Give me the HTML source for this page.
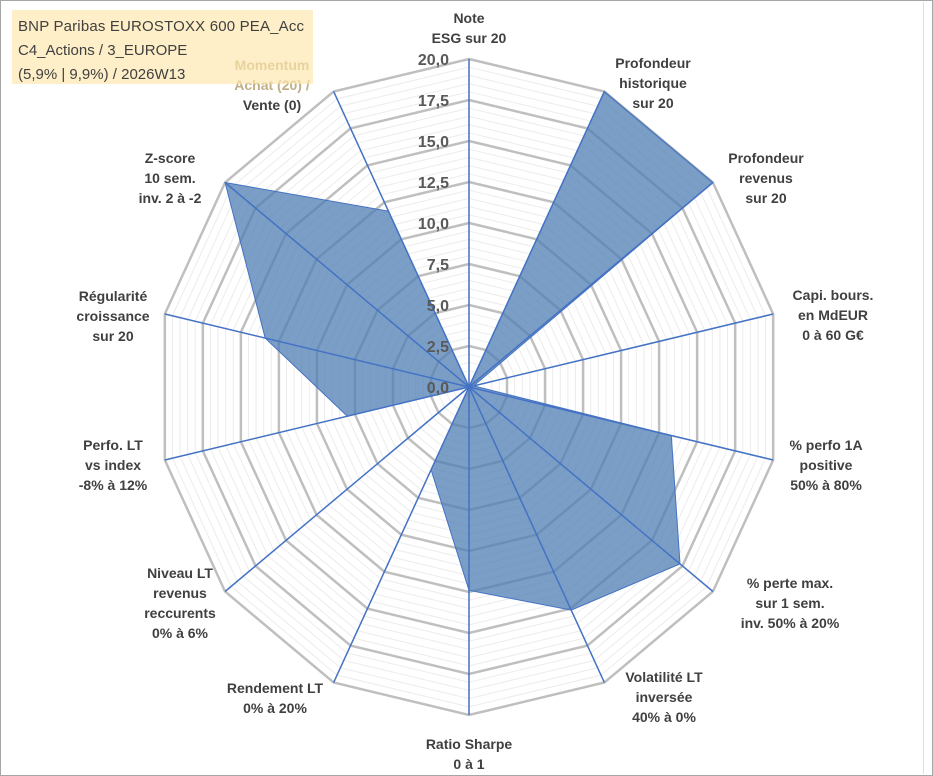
<!DOCTYPE html>
<html><head><meta charset="utf-8"><style>
body{margin:0;background:#fff;}
#wrap{position:relative;width:933px;height:776px;overflow:hidden;background:#fff;}
svg text{font-family:"Liberation Sans",sans-serif;}
</style></head><body>
<div id="wrap">
<svg id="chart" width="933" height="776">
<rect x="0.5" y="0.5" width="932" height="775" fill="#fff" stroke="#a6a6a6"/>
<rect x="923" y="2" width="1" height="772" fill="#e0e0e0"/>
</svg>
</div>
<script>
const categories=[["Note","ESG sur 20"],["Profondeur","historique","sur 20"],["Profondeur","revenus","sur 20"],["Capi. bours.","en MdEUR","0 à 60 G€"],["% perfo 1A","positive","50% à 80%"],["% perte max.","sur 1 sem.","inv. 50% à 20%"],["Volatilité LT","inversée","40% à 0%"],["Ratio Sharpe","0 à 1"],["Rendement LT","0% à 20%"],["Niveau LT","revenus","reccurents","0% à 6%"],["Perfo. LT","vs index","-8% à 12%"],["Régularité","croissance","sur 20"],["Z-score","10 sem.","inv. 2 à -2"],["Momentum","Achat (20) /","Vente (0)"]];
const values=[0,20,20,0.3,13.3,17.3,15.1,12.4,5.6,0,8,13.4,20,11.9];
const ticks=["0,0","2,5","5,0","7,5","10,0","12,5","15,0","17,5","20,0"];
const labelPos=[[469,18],[653,63],[766,158],[833,295],[826,445],[790,583],[664,677],[469,744],[275,688],[180,573],[113,445],[113,296],[170,158],[272,65]];
const NS="http://www.w3.org/2000/svg";
const svg=document.getElementById('chart');
const cx=469,cy=387,RX=312,RY=328,maxV=20,N=categories.length;
function pt(i,v){const a=i*2*Math.PI/N;const f=v/maxV;return [cx+f*RX*Math.sin(a),cy-f*RY*Math.cos(a)];}
function mk(t,attrs){const e=document.createElementNS(NS,t);for(const k in attrs)e.setAttribute(k,attrs[k]);svg.appendChild(e);return e;}
for(let v=0.5;v<=20.001;v+=0.5){
 if(Math.abs(v/2.5-Math.round(v/2.5))<0.01)continue;
 const p=[];for(let i=0;i<N;i++)p.push(pt(i,v).join(','));
 const e=mk('polygon',{points:p.join(' '),fill:'none',stroke:'#ececec','stroke-width':1});
 
 
}
for(let k=1;k<ticks.length;k++){
 const v=k*2.5;const p=[];for(let i=0;i<N;i++)p.push(pt(i,v).join(','));
 const e=mk('polygon',{points:p.join(' '),fill:'none',stroke:'#bfbfbf','stroke-width':2.5});
 
 
}
const dp=values.map((v,i)=>pt(i,v).join(',')).join(' ');
const poly=mk('polygon',{points:dp,fill:'rgba(79,125,180,0.75)',stroke:'#4472c4','stroke-width':1});


for(let i=0;i<N;i++){
 const [x,y]=pt(i,maxV);
 const l=mk('line',{x1:cx,y1:cy,x2:x,y2:y,stroke:'#4472c4','stroke-width':1.5});
 
 
}
ticks.forEach((t,k)=>{
 const e=mk('text',{x:449,y:cy-k*2.5/maxV*RY+6,'text-anchor':'end','font-size':16,'font-weight':'bold',fill:'#595959'});
 e.textContent=t;
 
 
});
categories.forEach((lines,i)=>{
 const [x,y]=labelPos[i];
 const g=document.createElementNS(NS,'text');
 g.setAttribute('text-anchor','middle');g.setAttribute('font-size',14);g.setAttribute('font-weight','bold');g.setAttribute('fill','#404040');
 
 
 lines.forEach((s,j)=>{const ts=document.createElementNS(NS,'tspan');ts.setAttribute('x',x);ts.setAttribute('y',y+j*20+5);ts.textContent=s;
  if(i===13&&j<2)ts.setAttribute('fill','#bfae88');g.appendChild(ts);});
 svg.appendChild(g);
});
const box=mk('rect',{x:12,y:10,width:301,height:74,fill:'rgba(253,230,170,0.65)'});


["BNP Paribas EUROSTOXX 600 PEA_Acc","C4_Actions / 3_EUROPE","(5,9% | 9,9%) / 2026W13"].forEach((s,j)=>{
 const e=mk('text',{x:18,y:31+j*24,'font-size':15,fill:'#404040',textLength:j===0?286:null});
 if(j!==0)e.removeAttribute('textLength');
 e.textContent=s;
 
 
});
</script>
</body></html>
